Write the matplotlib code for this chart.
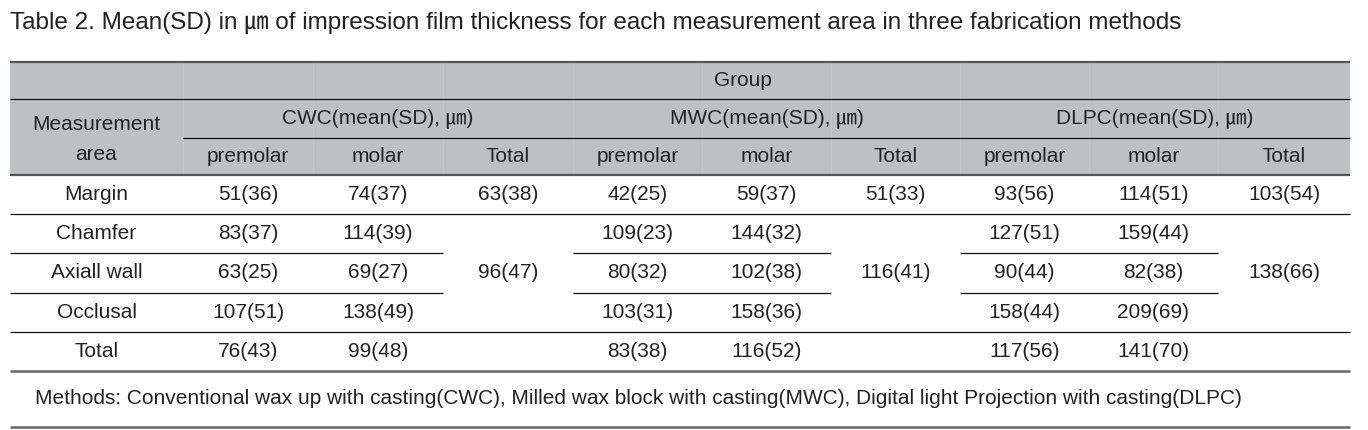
import matplotlib
matplotlib.use("Agg")
import matplotlib.pyplot as plt
from matplotlib.patches import Rectangle

plt.rcParams['font.family'] = ['Liberation Sans', 'Noto Sans CJK KR', 'DejaVu Sans']

title = "Table 2. Mean(SD) in \u339b of impression film thickness for each measurement area in three fabrication methods"
note = "Methods: Conventional wax up with casting(CWC), Milled wax block with casting(MWC), Digital light Projection with casting(DLPC)"

areas = ['Margin', 'Chamfer', 'Axiall wall', 'Occlusal', 'Total']
groups = ['CWC', 'MWC', 'DLPC']
subcols = ['premolar', 'molar', 'Total']

# (mean, sd) per area, rows follow `areas`
cwc_pre = [(51, 36), (83, 37), (63, 25), (107, 51), (76, 43)]
cwc_mol = [(74, 37), (114, 39), (69, 27), (138, 49), (99, 48)]
mwc_pre = [(42, 25), (109, 23), (80, 32), (103, 31), (83, 38)]
mwc_mol = [(59, 37), (144, 32), (102, 38), (158, 36), (116, 52)]
dlpc_pre = [(93, 56), (127, 51), (90, 44), (158, 44), (117, 56)]
dlpc_mol = [(114, 51), (159, 44), (82, 38), (209, 69), (141, 70)]
# group totals: margin, then chamfer..occlusal merged
cwc_tot = [(63, 38), (96, 47)]
mwc_tot = [(51, 33), (116, 41)]
dlpc_tot = [(103, 54), (138, 66)]

pre = [cwc_pre, mwc_pre, dlpc_pre]
mol = [cwc_mol, mwc_mol, dlpc_mol]
tot = [cwc_tot, mwc_tot, dlpc_tot]

fig = plt.figure(figsize=(13.68, 4.3), dpi=100)
ax = fig.add_axes([0, 0, 1, 1])
ax.set_xlim(0, 1368)
ax.set_ylim(430, 0)
ax.axis('off')

xe = [10, 183, 313, 443, 573, 702, 831, 960, 1089, 1218, 1350]
row_y = [62, 99, 138, 175, 214, 253, 293, 332, 371]
tc = '#222222'
fs = 15

ax.add_patch(Rectangle((xe[0], 62), xe[-1] - xe[0], 175 - 62, color='#bfc0c4', lw=0, zorder=0))
for x in xe[1:-1]:
    ax.plot([x, x], [62, 175], color='#c5c6ca', lw=0.6, zorder=1)

def hline(y, x0, x1, c='#111111', lw=0.9):
    ax.plot([x0, x1], [y, y], color=c, lw=lw, solid_capstyle='butt', zorder=2)

hline(62, xe[0], xe[-1], '#555555', 1.6)
hline(99, xe[0], xe[-1])
hline(138, xe[1], xe[-1])
hline(175, xe[0], xe[-1], '#555555', 1.6)
hline(214, xe[0], xe[-1])
for y in (253, 293):
    hline(y, xe[0], xe[3])
    hline(y, xe[4], xe[6])
    hline(y, xe[7], xe[9])
hline(332, xe[0], xe[-1])
hline(371, xe[0], xe[-1], '#666666', 1.8)
hline(427, xe[0], xe[-1], '#666666', 1.8)

def t(x, y, s, size=fs, ha='center'):
    ax.text(x, y, s, ha=ha, va='center', fontsize=size, color=tc)

t(10, 23, title, size=17.5, ha='left')
t(743, 80, 'Group')
t((xe[0] + xe[1]) / 2, 124, 'Measurement')
t((xe[0] + xe[1]) / 2, 154, 'area')

for g, name in enumerate(groups):
    c0 = 1 + 3 * g
    t((xe[c0] + xe[c0 + 3]) / 2, 118, name + '(mean(SD), \u339b)')
    for k, sc in enumerate(subcols):
        t((xe[c0 + k] + xe[c0 + k + 1]) / 2, 156, sc)

centers = [(row_y[i] + row_y[i + 1]) / 2 for i in range(3, 8)]
for i, a in enumerate(areas):
    yc = centers[i]
    t((xe[0] + xe[1]) / 2, yc, a)
    for g in range(3):
        c0 = 1 + 3 * g
        m, s = pre[g][i]
        t((xe[c0] + xe[c0 + 1]) / 2, yc, f'{m}({s})')
        m, s = mol[g][i]
        t((xe[c0 + 1] + xe[c0 + 2]) / 2, yc, f'{m}({s})')

for g in range(3):
    xc = (xe[3 + 3 * g] + xe[4 + 3 * g]) / 2
    m, s = tot[g][0]
    t(xc, centers[0], f'{m}({s})')
    m, s = tot[g][1]
    t(xc, (214 + 332) / 2, f'{m}({s})')

t(35, 398, note, ha='left')

fig.savefig('out.png', dpi=100)
